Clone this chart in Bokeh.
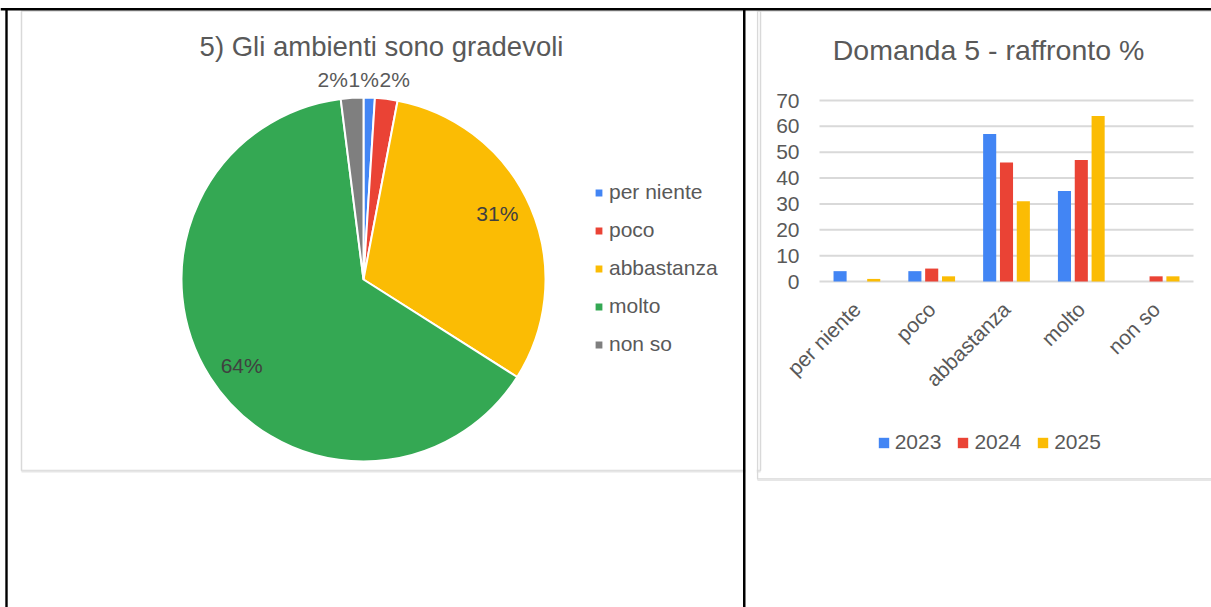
import numpy as np
from math import pi
from bokeh.plotting import figure
from bokeh.models import (ColumnDataSource, Legend, LegendItem, Label, Range1d,
                          FixedTicker, LinearAxis)
from bokeh.embed import file_html
from bokeh.resources import INLINE
from bokeh.core.properties import value

# ---------------- data ----------------
pie_title = "5) Gli ambienti sono gradevoli"
bar_title = "Domanda 5 - raffronto %"
categories = ["per niente", "poco", "abbastanza", "molto", "non so"]
pie_pct = [1, 2, 31, 64, 2]
years = ["2023", "2024", "2025"]
v2023 = [4, 4, 57, 35, 0]
v2024 = [0, 5, 46, 47, 2]
v2025 = [1, 2, 31, 64, 2]
y_ticks = [0, 10, 20, 30, 40, 50, 60, 70]

# ---------------- style / layout ----------------
cat_colors = ["#4285F4", "#EA4335", "#FBBC04", "#34A853", "#7F7F7F"]
year_colors = ["#4285F4", "#EA4335", "#FBBC04"]
FONT = "Liberation Sans"
TXT = "#595959"
PANEL = "#d9d9d9"

W, H = 1211, 607


def X(px):  # page x -> data x
    return px


def Y(py):  # page y (from top) -> data y
    return H - py


p = figure(width=W, height=H, x_range=Range1d(0, W), y_range=Range1d(0, H),
           output_backend="svg", toolbar_location=None, min_border=0,
           x_axis_type=None, y_axis_type=None, outline_line_color=None)

# ---- chart panels (light grey boxes with a soft bottom shadow)
for l, r, t, b in [(21, 760, 10.5, 470), (757, 1230, 10.5, 478.5)]:
    p.quad(left=X(l), right=X(r), top=Y(t), bottom=Y(b), fill_color=None,
           line_color=PANEL, line_width=1.5)
    p.quad(left=X(l), right=X(r), top=Y(b), bottom=Y(b + 2), fill_color="#e6e6e6",
           line_color=None)
p.quad(left=X(745), right=X(756.2), top=Y(11), bottom=Y(481), fill_color="white",
       line_color=None)

# ================= pie =================
cx, cy, R = X(363), Y(279), 182
frac = np.array(pie_pct, dtype=float) / sum(pie_pct)
cum = np.concatenate([[0.0], np.cumsum(frac)])
start = pi / 2 - 2 * pi * cum[:-1]
end = pi / 2 - 2 * pi * cum[1:]
src = ColumnDataSource(dict(cat=categories, start=start, end=end, color=cat_colors))
wr = p.wedge(x=cx, y=cy, radius=R, start_angle="start", end_angle="end",
             direction="clock", fill_color="color", line_color="white",
             line_width=2, source=src)

mid = 2 * pi * (cum[:-1] + cum[1:]) / 2
lx, ly, lc, outer = [], [], [], []
for i, f in enumerate(frac):
    r = 0.82 * R if f >= 0.05 else R + 18
    a = mid[i] - (0.05 if f >= 0.05 else 0.0)
    lx.append(cx + r * np.sin(a))
    ly.append(cy + r * np.cos(a))
    lc.append("#404040" if f >= 0.05 else TXT)
    if f < 0.05:
        outer.append(i)
if outer:  # spread the small outside labels side by side
    order = sorted(outer, key=lambda k: lx[k])
    m = np.mean([lx[k] for k in order]) - 6
    top_y = max(ly[k] for k in order)
    for n, k in enumerate(order):
        lx[k] = m + (n - (len(order) - 1) / 2) * 31
        ly[k] = top_y
lsrc = ColumnDataSource(dict(x=lx, y=ly, t=[f"{v}%" for v in pie_pct], c=lc))
p.text(x="x", y="y", text="t", text_color="c", text_align="center",
       text_baseline="middle", text_font=value(FONT), text_font_size="21px", source=lsrc)

p.add_layout(Label(x=X(381), y=Y(45.5), text=pie_title, text_align="center",
                   text_baseline="alphabetic", text_font=FONT,
                   text_font_size="27.5px", text_color=TXT))

legL = Legend(items=[LegendItem(label=c, renderers=[wr], index=i)
                     for i, c in enumerate(categories)],
              location=(X(593), Y(356)), orientation="vertical",
              glyph_width=11, glyph_height=11, label_standoff=5, spacing=14,
              padding=0, margin=0, border_line_color=None, background_fill_alpha=0,
              label_text_font=FONT, label_text_font_size="21px", label_text_color=TXT)
p.add_layout(legL, "center")

# ================= bar chart =================
BAR_L, BAR_R = 819, 1193          # page x of the bar plot area
Y_ZERO, Y_TOP = 281, 100          # page y of 0 and of 70
ncat = len(categories)
ux = (BAR_R - BAR_L) / ncat       # px per category
uy = (Y_ZERO - Y_TOP) / y_ticks[-1]
p.extra_x_ranges = {"bar": Range1d((0 - BAR_L) / ux, (W - BAR_L) / ux)}
p.extra_y_ranges = {"bar": Range1d((Y_ZERO - H) / uy, (Y_ZERO - 0) / uy)}

# horizontal grid lines at the tick values
p.segment(x0=0, x1=ncat, y0=y_ticks, y1=y_ticks, line_color=PANEL, line_width=2,
          x_range_name="bar", y_range_name="bar")

cat_pos = np.arange(ncat) + 0.5
offsets = [-0.225, 0.0, 0.225]
series = [v2023, v2024, v2025]
bar_r = []
for yr, vals, col, off in zip(years, series, year_colors, offsets):
    bs = ColumnDataSource(dict(x=cat_pos + off, top=vals))
    bar_r.append(p.vbar(x="x", top="top", width=0.175, source=bs, fill_color=col,
                        line_color=None, x_range_name="bar", y_range_name="bar"))

yax = LinearAxis(x_range_name="bar", y_range_name="bar", fixed_location=0,
                 ticker=FixedTicker(ticks=y_ticks))
xax = LinearAxis(x_range_name="bar", y_range_name="bar", fixed_location=-0.8,
                 ticker=FixedTicker(ticks=list(cat_pos)),
                 major_label_overrides={float(x): c for x, c in zip(cat_pos, categories)})
for ax in (xax, yax):
    ax.axis_line_color = None
    ax.major_tick_line_color = None
    ax.minor_tick_line_color = None
    ax.major_tick_out = 0
    ax.major_tick_in = 0
    ax.major_label_text_font = FONT
    ax.major_label_text_font_size = "21px"
    ax.major_label_text_color = TXT
yax.major_label_standoff = 20
xax.major_label_standoff = 22
xax.major_label_orientation = pi / 4
p.add_layout(yax, "left")
p.add_layout(xax, "below")

p.add_layout(Label(x=X(988), y=Y(49), text=bar_title, text_align="center",
                   text_baseline="alphabetic", text_font=FONT,
                   text_font_size="28.5px", text_color=TXT))

legR = Legend(items=[LegendItem(label=yr, renderers=[r]) for yr, r in zip(years, bar_r)],
              orientation="horizontal", location=(X(876.7), Y(454)),
              glyph_width=13, glyph_height=13, label_standoff=5, spacing=15,
              padding=0, margin=0, border_line_color=None, background_fill_alpha=0,
              label_text_font=FONT, label_text_font_size="21px", label_text_color=TXT)
p.add_layout(legR, "center")

# ---- table borders (black)
p.quad(left=0, right=W, top=Y(7.5), bottom=Y(10), fill_color="black", line_color=None)
p.quad(left=X(4.8), right=X(7.2), top=Y(7.5), bottom=0, fill_color="black", line_color=None)
p.quad(left=X(742.5), right=X(745), top=Y(7.5), bottom=0, fill_color="black", line_color=None)

open("out.html", "w").write(file_html(p, INLINE))
